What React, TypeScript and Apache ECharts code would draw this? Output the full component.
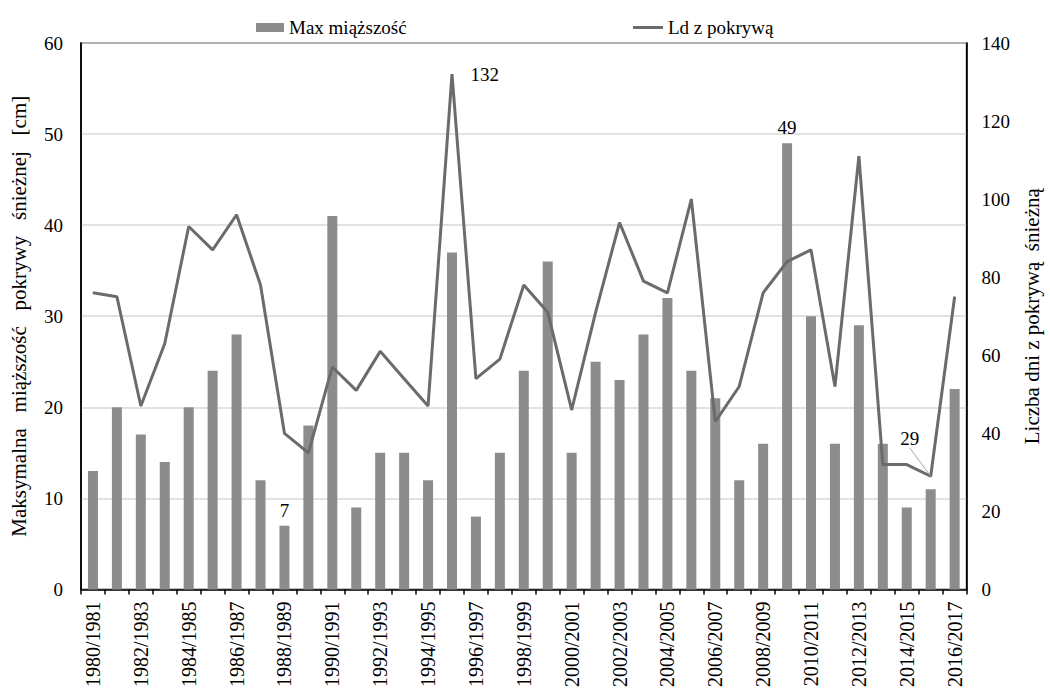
import React, { useEffect, useRef } from "react";
import * as echarts from "echarts";

const seasons = [
  "1980/1981","1981/1982","1982/1983","1983/1984","1984/1985","1985/1986","1986/1987","1987/1988",
  "1988/1989","1989/1990","1990/1991","1991/1992","1992/1993","1993/1994","1994/1995","1995/1996",
  "1996/1997","1997/1998","1998/1999","1999/2000","2000/2001","2001/2002","2002/2003","2003/2004",
  "2004/2005","2005/2006","2006/2007","2007/2008","2008/2009","2009/2010","2010/2011","2011/2012",
  "2012/2013","2013/2014","2014/2015","2015/2016","2016/2017",
];

const maxThickness = [
  13, 20, 17, 14, 20, 24, 28, 12, 7, 18, 41, 9, 15, 15, 12, 37, 8, 15, 24, 36,
  15, 25, 23, 28, 32, 24, 21, 12, 16, 49, 30, 16, 29, 16, 9, 11, 22,
];

const snowDays = [
  76, 75, 47, 63, 93, 87, 96, 78, 40, 35, 57, 51, 61, 54, 47, 132, 54, 59, 78, 71,
  46, 71, 94, 79, 76, 100, 43, 52, 76, 84, 87, 52, 111, 32, 32, 29, 75,
];

const leftTicks = { min: 0, max: 60, interval: 10 };
const rightTicks = { min: 0, max: 140, interval: 20 };

const barLabelIdx = [8, 29];

const FONT = "Times New Roman";

export default function App() {
  const ref = useRef<HTMLDivElement>(null);
  useEffect(() => {
    if (!ref.current) return;
    const chart = echarts.init(ref.current, undefined, { renderer: "svg" });
    const barData = maxThickness.map((v, i) =>
      barLabelIdx.includes(i)
        ? { value: v, label: { show: true, position: "top", distance: 6 } }
        : v
    );
    const lineData = snowDays.map((v, i) => {
      if (i === 15) {
        return { value: v, label: { show: true, position: "right", distance: 18 } };
      }
      if (i === 35) {
        return {
          value: v,
          label: { show: true, position: "top", distance: 4 },
          labelLine: { show: true, lineStyle: { color: "#a6a6a6", width: 1 } },
        };
      }
      return v;
    });
    const legendText = { fontFamily: FONT, fontSize: 19, color: "#000" };
    chart.setOption({
      animation: false,
      textStyle: { fontFamily: FONT, color: "#000" },
      legend: [
        {
          top: 13,
          left: 251,
          itemGap: 0,
          itemWidth: 28,
          itemHeight: 9,
          textStyle: legendText,
          data: [{ name: "Max miąższość", icon: "rect" }],
        },
        {
          top: 13,
          left: 628,
          itemGap: 0,
          itemWidth: 30,
          itemHeight: 3,
          textStyle: legendText,
          data: [{ name: "Ld z pokrywą", icon: "rect", itemStyle: { color: "#6b6b6b" } }],
        },
      ],
      grid: {
        left: 81,
        right: 77,
        top: 43,
        bottom: 99,
        show: true,
        borderColor: "#000",
        borderWidth: 1.5,
        backgroundColor: "transparent",
      },
      xAxis: {
        type: "category",
        data: seasons,
        boundaryGap: true,
        axisLine: { show: true, lineStyle: { color: "#000", width: 1.5 } },
        axisTick: { show: true, length: 5, lineStyle: { color: "#000", width: 1.5 }, interval: 0 },
        axisLabel: {
          interval: 1,
          rotate: 90,
          margin: 12,
          fontFamily: FONT,
          fontSize: 20,
          color: "#000",
        },
      },
      yAxis: [
        {
          type: "value",
          position: "left",
          min: leftTicks.min,
          max: leftTicks.max,
          interval: leftTicks.interval,
          name: "Maksymalna   miąższość   pokrywy   śnieżnej   [cm]",
          nameLocation: "middle",
          nameGap: 52,
          nameRotate: 90,
          nameTextStyle: { fontFamily: FONT, fontSize: 21, color: "#000" },
          axisLine: { show: true, lineStyle: { color: "#000", width: 1.5 } },
          axisTick: { show: false },
          axisLabel: { margin: 18, fontFamily: FONT, fontSize: 19, color: "#000" },
          splitLine: { show: true, lineStyle: { color: "#d9d9d9", width: 1.5 } },
        },
        {
          type: "value",
          position: "right",
          min: rightTicks.min,
          max: rightTicks.max,
          interval: rightTicks.interval,
          name: "Liczba dni z pokrywą  śnieżną",
          nameLocation: "middle",
          nameGap: 53,
          nameRotate: 90,
          nameTextStyle: { fontFamily: FONT, fontSize: 21, color: "#000" },
          axisLine: { show: true, lineStyle: { color: "#000", width: 1.5 } },
          axisTick: { show: false },
          axisLabel: { margin: 15, fontFamily: FONT, fontSize: 19, color: "#000" },
          splitLine: { show: false },
        },
      ],
      series: [
        {
          name: "Max miąższość",
          type: "bar",
          yAxisIndex: 0,
          barWidth: 10,
          data: barData,
          itemStyle: { color: "#8c8c8c" },
          label: { show: false, fontFamily: FONT, fontSize: 19, color: "#000" },
        },
        {
          name: "Ld z pokrywą",
          type: "line",
          yAxisIndex: 1,
          data: lineData,
          symbol: "circle",
          symbolSize: 1,
          showSymbol: true,
          lineStyle: { color: "#6b6b6b", width: 3 },
          itemStyle: { color: "#6b6b6b" },
          label: { show: false, fontFamily: FONT, fontSize: 19, color: "#000" },
          labelLayout: (params: any) =>
            params.dataIndex === 35 ? { dx: -21, dy: -24 } : {},
          labelLine: { show: false },
          z: 3,
        },
      ],
    });
    return () => chart.dispose();
  }, []);
  return (
    <div
      ref={ref}
      style={{ position: "fixed", left: 0, top: 0, width: 1050, height: 690, background: "#fff" }}
    />
  );
}
